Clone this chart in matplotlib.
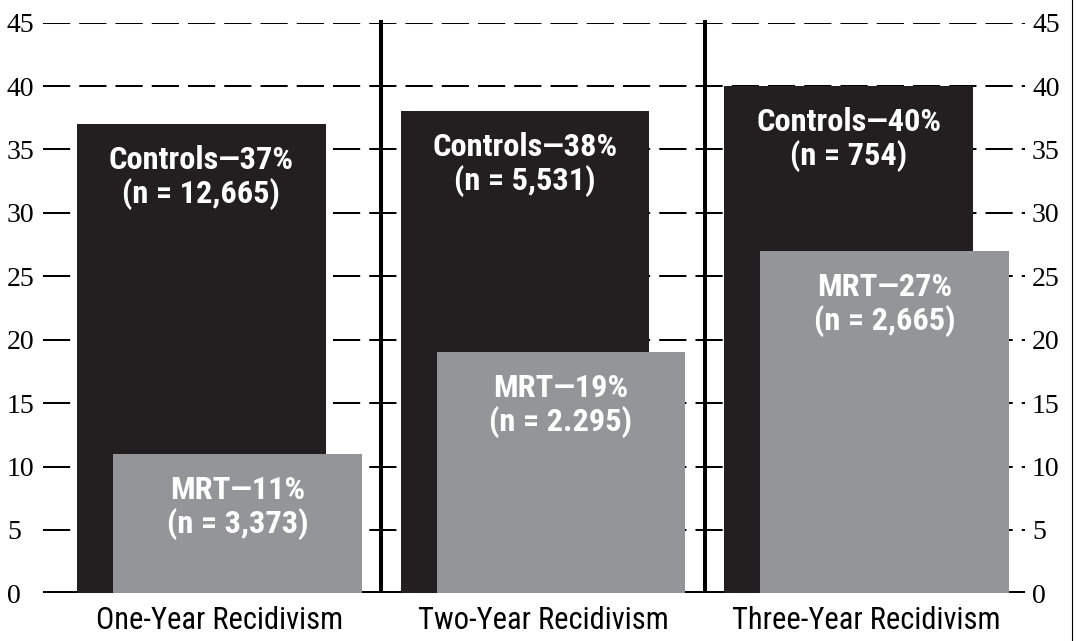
import matplotlib.pyplot as plt
from matplotlib.lines import Line2D

# data
groups = ["One-Year Recidivism", "Two-Year Recidivism", "Three-Year Recidivism"]
controls = [37, 38, 40]
controls_n = ["12,665", "5,531", "754"]
mrt = [11, 19, 27]
mrt_n = ["3,373", "2.295", "2,665"]
yticks = [0, 5, 10, 15, 20, 25, 30, 35, 40, 45]

black = "#231f20"
grey = "#939598"
narrow = ["Liberation Sans Narrow", "Roboto Condensed", "Liberation Sans"]
serif = ["Liberation Serif", "DejaVu Serif"]

fig = plt.figure(figsize=(10.76, 6.41), dpi=100)
ax = fig.add_axes([0.03996, 0.0744, 0.9131, 0.8902])

x = list(range(len(groups)))
w = 0.768
off = 0.0556

ax.bar([i - off for i in x], controls, w, color=black, zorder=2)
ax.bar([i + off for i in x], mrt, w, color=grey, zorder=3)

# labels inside the bars
for i in x:
    ax.annotate("Controls\u2014%d%%\n(n = %s)" % (controls[i], controls_n[i]),
                (i - off, controls[i]), xytext=(0, -15), textcoords="offset points",
                ha="center", va="top", color="white", fontsize=23.3,
                fontweight="bold", family=narrow, linespacing=1.12, zorder=4)
    ax.annotate("MRT\u2014%d%%\n(n = %s)" % (mrt[i], mrt_n[i]),
                (i + off, mrt[i]), xytext=(0, -15), textcoords="offset points",
                ha="center", va="top", color="white", fontsize=23.3,
                fontweight="bold", family=narrow, linespacing=1.12, zorder=4)

# dashed grid lines (they also act as ticks)
for t in yticks[1:]:
    ax.axhline(t, color="black", lw=1.45, linestyle=(0, (13.5, 4.5)), zorder=1)

# thick base line
ax.axhline(0, color="black", lw=3.6, zorder=1)

# separators between groups
for i in x[:-1]:
    ax.plot([i + 0.5, i + 0.5], [0, 45.2], color="black", lw=2.9,
            solid_capstyle="butt", zorder=1, clip_on=False)

ax.set_xlim(-0.5447, 2.4906)
ax.set_ylim(0, 45)
for s in ax.spines.values():
    s.set_visible(False)

ax.set_xticks(x)
ax.set_xticklabels(groups, family=narrow, fontsize=22)
ax.tick_params(axis="x", length=0, pad=9)

# left labels, left aligned at the picture edge
ax.set_yticks(yticks)
ax.set_yticklabels([str(t) for t in yticks], family=serif, fontsize=20)
ax.tick_params(axis="y", length=0, pad=26)
for lab in ax.get_yticklabels():
    lab.set_horizontalalignment("left")

# right labels
ax2 = ax.twinx()
ax2.set_ylim(0, 45)
ax2.set_yticks(yticks)
ax2.set_yticklabels([str(t) for t in yticks], family=serif, fontsize=20)
ax2.tick_params(axis="y", length=0, pad=4.7)
for s in ax2.spines.values():
    s.set_visible(False)

# thin frame line at the right edge of the picture
fig.add_artist(Line2D([0.9963, 0.9963], [0, 1], color="black", lw=0.8))

fig.savefig("out.png", dpi=100)
